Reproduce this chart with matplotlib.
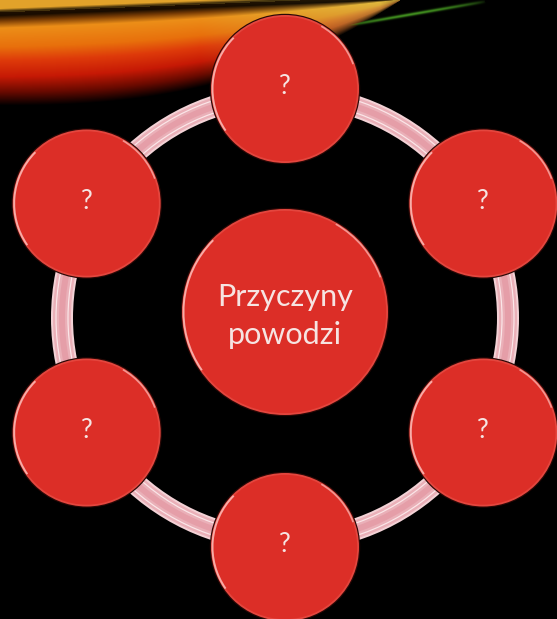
import numpy as np
import matplotlib.pyplot as plt
from matplotlib.patches import Circle, Arc

# diagram content
center_label = 'Przyczyny\npowodzi'
outer_labels = ['?', '?', '?', '?', '?', '?']
outer_angles = [90, 30, -30, -90, -150, 150]   # degrees, counter-clockwise from east

# layout (pixels)
W, H = 557, 619
hub = (285, 318)
hub_r = 229
ring_r = 223
outer_r = 74
center_xy = (285, 312)
center_r = 103

fig = plt.figure(figsize=(W / 100, H / 100), dpi=100, facecolor='black')
ax = fig.add_axes([0, 0, 1, 1])
ax.set_xlim(0, W)
ax.set_ylim(H, 0)
ax.set_aspect('equal')
ax.axis('off')
ax.set_facecolor('black')

# background light streaks (top left)
yy, xx = np.mgrid[0:H, 0:W].astype(float)
y_top = 15 - 0.04 * xx
y_bot = 105 * (1 - np.clip(xx / 400, 0, 1) ** 2.5)
u = (yy - y_top) / np.maximum(y_bot - y_top, 1)
stops = [-0.25, 0.0, 0.06, 0.14, 0.35, 0.5, 0.68, 0.85, 1.0]
cols = np.array([
    [60, 30, 0], [25, 12, 0], [120, 60, 5], [236, 142, 24], [232, 112, 12],
    [222, 58, 10], [198, 25, 5], [105, 10, 0], [0, 0, 0]]) / 255.0
img = np.zeros((H, W, 3))
for c in range(3):
    img[..., c] = np.interp(u, stops, cols[:, c], left=np.nan, right=0.0)
# golden band above the dark line
top_band = yy < (y_top - 3)
gold = np.array([226, 162, 42]) / 255.0
shade = np.clip((y_top - 3 - yy) / 4, 0.3, 1)
for c in range(3):
    img[..., c] = np.where(top_band, gold[c] * shade, img[..., c])
img = np.nan_to_num(img)
# tint toward yellow-green near the tip and fade out
tip = np.clip((xx - 200) / 180, 0, 1)[..., None]
lum = img.max(-1, keepdims=True)
img = img * (1 - 0.65 * tip) + 0.65 * tip * lum * np.array([0.92, 0.88, 0.35])
fade = np.clip((450 - xx) / 70, 0, 1)
img = img * fade[..., None]
# thin green streak
gx0, gy0, gx1, gy1 = 335.0, 27.0, 485.0, 1.0
t = np.clip(((xx - gx0) * (gx1 - gx0) + (yy - gy0) * (gy1 - gy0)) / ((gx1 - gx0) ** 2 + (gy1 - gy0) ** 2), 0, 1)
d = np.hypot(xx - (gx0 + t * (gx1 - gx0)), yy - (gy0 + t * (gy1 - gy0)))
g = np.exp(-(d / 1.6) ** 2) * np.sin(np.pi * t) ** 0.5
img = np.maximum(img, g[..., None] * np.array([0.25, 0.55, 0.12]))
ax.imshow(np.clip(img, 0, 1), extent=(0, W, H, 0), zorder=0, interpolation='bilinear')

# connecting ring
px = 0.72  # points per pixel
ax.add_patch(Circle(hub, ring_r, fill=False, lw=22 * px, ec='#f3d2d6', zorder=1))
ax.add_patch(Circle(hub, ring_r, fill=False, lw=18 * px, ec='#eab0b8', zorder=1))
ax.add_patch(Circle(hub, ring_r - 6, fill=False, lw=1.2 * px, ec='#fbe6e8', zorder=1))
ax.add_patch(Circle(hub, ring_r + 6, fill=False, lw=1.2 * px, ec='#fbe6e8', zorder=1))
ax.add_patch(Circle(hub, ring_r, fill=False, lw=6 * px, ec='#e59ea8', zorder=1))


def bubble(xy, r, label, size, dy=0):
    ax.add_patch(Circle(xy, r + 1.2, fc='#2a0806', ec='none', zorder=2))
    ax.add_patch(Circle(xy, r, fc='#e4463e', ec='none', zorder=3))
    ax.add_patch(Circle(xy, r - 1.8, fc='#dc2e27', ec='none', zorder=4))
    ax.add_patch(Arc(xy, 2 * r - 3, 2 * r - 3, theta1=145, theta2=225,
                     lw=1.4, color='#ffd0cc', alpha=0.75, zorder=5))
    ax.add_patch(Arc(xy, 2 * r - 3, 2 * r - 3, theta1=300, theta2=340,
                     lw=1.2, color='#ffd0cc', alpha=0.6, zorder=5))
    ax.text(xy[0], xy[1] + dy, label, ha='center', va='center', fontsize=size,
            color='#f6e4e2', family=['Lato', 'DejaVu Sans'],
            linespacing=1.45, zorder=6)


for ang, lab in zip(outer_angles, outer_labels):
    a = np.deg2rad(ang)
    bubble((hub[0] + hub_r * np.cos(a), hub[1] - hub_r * np.sin(a)),
           outer_r, lab, 19, dy=-2)

bubble(center_xy, center_r, center_label, 22, dy=4)

fig.savefig('out.png', dpi=100, facecolor='black')
